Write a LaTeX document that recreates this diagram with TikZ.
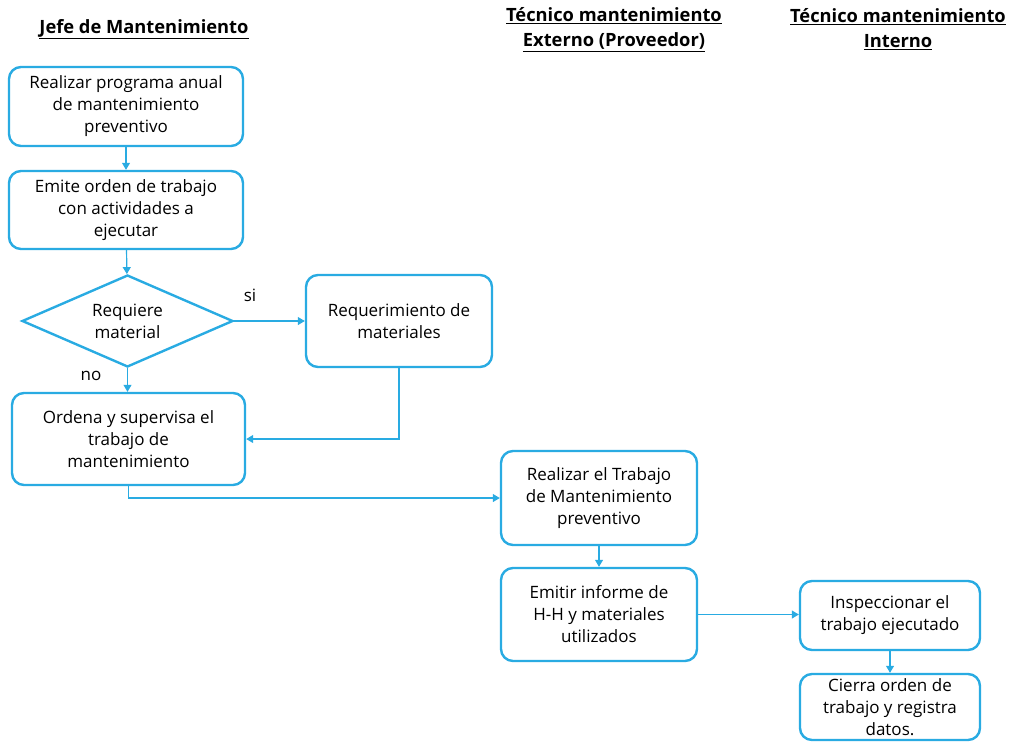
\documentclass[tikz,border=0pt]{standalone}
\usepackage{fontspec}
\setmainfont{Open Sans}
\usetikzlibrary{arrows.meta, shapes.geometric, positioning}
\definecolor{flujo}{RGB}{41,171,226}

\begin{document}
\begin{tikzpicture}[x=1pt, y=-1pt,
  caja/.style={draw=flujo, line width=2.4pt, rounded corners=12pt, align=center,
    inner sep=0pt, font=\fontsize{17}{22}\selectfont},
  rombo/.style={draw=flujo, line width=2.4pt, diamond, aspect=2.3, align=center,
    inner sep=0pt, font=\fontsize{17}{22}\selectfont},
  flecha/.style={draw=flujo, line width=1.2pt, -{Triangle[length=7pt, width=8pt]}},
  titulo/.style={align=center, font=\fontsize{18.3}{25}\selectfont\bfseries},
  etiqueta/.style={font=\fontsize{17}{22}\selectfont}]
\useasboundingbox (0,0) rectangle (1013,742);

% encabezados
\node[titulo] (jefe) at (144, 29) {\underline{Jefe de Mantenimiento}};
\node[titulo] (externo) at (614, 29.5) {\underline{Técnico mantenimiento}\\ \underline{Externo (Proveedor)}};
\node[titulo] (interno) at (898, 29.5) {\underline{Técnico mantenimiento}\\ \underline{Interno}};

% columna del jefe
\node[caja, minimum width=234pt, minimum height=79pt] (programa) at (126, 106.5)
  {Realizar programa anual\\ de mantenimiento\\ preventivo};
\node[caja, minimum width=234pt, minimum height=78pt] (orden) at (126, 210)
  {Emite orden de trabajo\\ con actividades a\\ ejecutar};
\node[rombo, minimum width=211pt, minimum height=92pt] (requiere) at (127.5, 321)
  {Requiere\\ material};
\node[caja, minimum width=186pt, minimum height=92pt] (materiales) at (399, 321)
  {Requerimiento de\\ materiales};
\node[caja, minimum width=233pt, minimum height=92pt] (supervisa) at (128.5, 439)
  {Ordena y supervisa el\\ trabajo de\\ mantenimiento};

% columna externa
\node[caja, minimum width=196pt, minimum height=94pt] (trabajo) at (599, 498)
  {Realizar el Trabajo\\ de Mantenimiento\\ preventivo};
\node[caja, minimum width=196pt, minimum height=93pt] (informe) at (599, 614.5)
  {Emitir informe de\\ H-H y materiales\\ utilizados};

% columna interna
\node[caja, minimum width=180pt, minimum height=69pt] (inspecciona) at (890, 615.5)
  {Inspeccionar el\\ trabajo ejecutado};
\node[caja, minimum width=180pt, minimum height=66pt] (cierra) at (890, 707)
  {Cierra orden de\\ trabajo y registra\\ datos.};

\node[etiqueta] (si) at (250, 295) {si};
\node[etiqueta] (no) at (91, 376) {no};

\draw[flecha] (programa) -- (orden);
\draw[flecha] (orden) -- (requiere);
\draw[flecha] (requiere.east) -- (materiales.west);
\draw[flecha] (requiere.south) -- (supervisa.north -| requiere.south);
\draw[flecha] (materiales.south) |- (supervisa.east);
\draw[flecha] (supervisa.south) |- (trabajo.west);
\draw[flecha] (trabajo) -- (informe);
\draw[flecha] (informe.east) -- (informe.east -| inspecciona.west);
\draw[flecha] (inspecciona) -- (cierra);
\end{tikzpicture}
\end{document}
